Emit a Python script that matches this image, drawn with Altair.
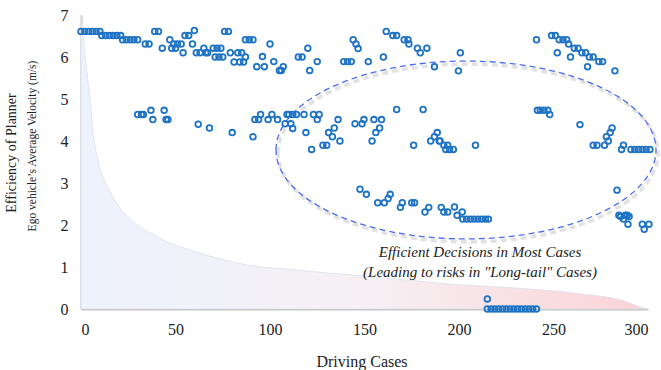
import altair as alt
import pandas as pd

# ---------------- data ----------------
case_x = [
    0, 2, 4, 6, 8, 10,
    11, 13, 15, 17, 19, 21,
    22, 24, 26, 28, 30,
    30, 32, 33,
    34, 36,
    37, 38,
    39, 41,
    43, 44, 45, 46, 47, 48, 49, 50, 51, 53, 54,
    55, 57, 59, 60, 61, 62, 63, 65, 66, 67, 68,
    70, 71, 72, 73, 74, 75,
    76, 78, 79, 80, 81, 83, 84, 85, 86, 87, 87, 89, 91,
    91, 92, 93, 94, 95, 96, 97, 99, 100, 101, 102, 104, 105, 106, 107, 108,
    109, 110, 111, 112, 112, 114, 115, 117, 118, 119, 120, 121, 122, 123,
    125, 125, 126, 128, 130, 131, 133, 134, 136, 137, 139, 141, 143, 144,
    145, 145.5, 146.6, 147.6, 148.7, 149.7, 151, 152, 154, 155, 156, 157,
    158, 159, 160, 160.5, 161.5, 162.5, 163.6, 165, 167, 167, 169, 170,
    171, 173, 173.5, 175, 176.5, 176, 178, 179.5, 181, 182, 183, 184, 185,
    187, 187, 188.5, 189.6, 190.6, 190, 192, 192, 193, 194, 194, 195, 197,
    197.6, 199, 199.7, 200.7, 201.7,
    202, 204, 206, 208, 208.7, 210, 212, 214, 215.6,
    215, 215, 217, 219, 221, 223, 225, 227, 229, 231, 233, 235, 237, 239, 241,
    241, 241.5, 243, 245, 247, 248,
    249, 251, 252, 253, 255, 257, 258, 259, 261, 263, 264, 265, 267, 268,
    269, 271, 271, 273, 274, 276, 277, 278, 279, 280, 281, 282.5, 283.6,
    284.6, 285.5, 286, 287, 287, 288, 289, 289.4, 290, 291, 293, 295, 297,
    297, 298, 299, 300.5, 301,
]
velocity = [
    6.61, 6.61, 6.61, 6.61, 6.61, 6.61,
    6.51, 6.51, 6.51, 6.51, 6.51, 6.51,
    6.41, 6.41, 6.41, 6.41, 6.41,
    4.63, 4.63, 4.63,
    6.31, 6.31,
    4.73, 4.51,
    6.61, 6.61,
    6.21, 4.73, 4.51, 4.51, 6.41, 6.21, 6.31, 6.21, 6.31, 6.31, 6.10,
    6.51, 6.51, 6.31, 6.63, 6.10, 4.40, 6.10, 6.21, 6.10, 6.10, 4.31,
    6.21, 6.00, 6.21, 6.00, 6.21, 6.00,
    6.61, 6.61, 6.10, 4.20, 5.88, 6.10, 5.88, 6.10, 5.88, 6.00, 6.41, 6.41, 6.41,
    4.10, 4.51, 5.77, 4.51, 4.63, 6.01, 5.77, 4.51, 6.31, 4.63, 5.89, 4.51, 5.68, 5.68, 5.77, 4.41,
    4.63, 4.63, 4.41, 4.63, 4.30, 4.63, 6.00, 6.00, 4.63, 4.20, 6.21, 5.68, 3.80, 4.63,
    5.89, 4.51, 4.63, 3.90, 3.90, 4.20, 4.10, 4.31, 4.51, 4.00, 5.89, 5.89, 5.89, 6.41,
    4.41, 6.31, 6.20, 2.85, 4.41, 4.51, 2.73, 5.89, 4.00, 4.51, 4.20, 2.53,
    4.31, 4.51, 6.00, 2.53, 6.61, 2.63, 2.73, 6.51, 6.51, 4.75, 2.42, 2.53,
    6.41, 6.41, 6.31, 2.53, 2.53, 3.90, 6.21, 6.10, 4.75, 2.31, 6.21, 2.42, 4.00,
    5.77, 4.10, 4.20, 4.00, 2.42, 4.00, 2.31, 3.90, 3.80, 3.90, 2.31, 3.80, 3.80,
    2.43, 2.23, 5.67, 6.10, 2.31,
    2.14, 2.14, 2.14, 2.14, 3.90, 2.14, 2.14, 2.14, 2.14,
    0.24, 0, 0, 0, 0, 0, 0, 0, 0, 0, 0, 0, 0, 0, 0,
    6.41, 4.73, 4.73, 4.73, 4.73, 4.63,
    6.51, 6.51, 6.10, 6.41, 6.41, 6.41, 6.31, 6.00, 6.21, 6.21, 4.39, 6.10, 6.10, 5.77,
    6.00, 6.00, 3.90, 3.90, 5.89, 5.89, 3.90, 4.10, 4.00, 4.20, 4.31, 5.67, 2.83,
    2.23, 2.20, 3.80, 3.90, 2.14, 2.23, 2.23, 2.02, 2.20, 3.80, 3.80, 3.80, 3.80,
    2.02, 1.90, 3.80, 2.02, 3.80,
]

# decorative "long-tail" curve
tail_x = [0, 1, 2, 3, 4, 5, 6.4, 8, 10, 12.5, 15.4, 18, 22, 27, 30, 38, 47, 56, 65, 75,
          83, 95, 110, 125, 143, 160, 180, 196, 215, 230, 244, 255, 265, 272, 279, 285,
          290, 294, 297, 300]
tail_y = [7.0, 6.6, 6.1, 5.7, 5.3, 4.9, 4.2, 3.75, 3.35, 3.05, 2.8, 2.58, 2.33, 2.11, 2.0,
          1.78, 1.57, 1.43, 1.3, 1.18, 1.09, 1.0, 0.95, 0.88, 0.81, 0.74, 0.66, 0.59, 0.54,
          0.5, 0.45, 0.41, 0.36, 0.32, 0.28, 0.22, 0.15, 0.08, 0.03, 0.0]

x_ticks = [0, 50, 100, 150, 200, 250, 300]
y_ticks = [0, 1, 2, 3, 4, 5, 6, 7]

pts = pd.DataFrame({"x": case_x, "y": velocity})
tail = pd.DataFrame({"x": tail_x, "y": tail_y})

SERIF = "Liberation Serif, Times New Roman, serif"
W, H = 567, 294

xs = alt.Scale(domain=[0, 300], nice=False, zero=False)
ys = alt.Scale(domain=[0, 7], nice=False)

grad = alt.LinearGradient(
    gradient="linear",
    stops=[alt.GradientStop(color="#EDF2FD", offset=0),
           alt.GradientStop(color="#F6F0F4", offset=0.5),
           alt.GradientStop(color="#FBD3D6", offset=1)],
    x1=0, x2=1, y1=1, y2=1)

area = alt.Chart(tail).mark_area(
    color=grad, interpolate="monotone", stroke="#DCDFE8", strokeWidth=0.8
).encode(
    x=alt.X("x:Q", scale=xs, axis=alt.Axis(values=x_ticks, title=None, labelPadding=12)),
    y=alt.Y("y:Q", scale=ys, axis=alt.Axis(values=y_ticks, title=None, labelPadding=13)),
)

points = alt.Chart(pts).mark_point(
    shape="circle", filled=False, size=32, strokeWidth=1.8,
    color="#1F73C4", opacity=1
).encode(
    x=alt.X("x:Q", scale=xs, axis=alt.Axis(values=x_ticks, title=None, labelPadding=12)),
    y=alt.Y("y:Q", scale=ys, axis=alt.Axis(values=y_ticks, title=None, labelPadding=13)),
)

# ellipse annotation (custom symbol path in [-1,1] box)
ELL = ("M -1 0 C -1 -0.2585 -0.5523 -0.468 0 -0.468 "
       "C 0.5523 -0.468 1 -0.2585 1 0 "
       "C 1 0.2585 0.5523 0.468 0 0.468 "
       "C -0.5523 0.468 -1 0.2585 -1 0 Z")
one = pd.DataFrame({"k": [0]})

shadow = alt.Chart(one).mark_point(
    shape=ELL, size=380 * 380, filled=False, color="#9A9A9A",
    strokeWidth=3.5, opacity=0.28, strokeDash=[6, 4]
).encode(x=alt.value(385 + 2), y=alt.value(135 + 3))

ellipse = alt.Chart(one).mark_point(
    shape=ELL, size=380 * 380, filled=False, color="#4A6CF0",
    strokeWidth=1.3, opacity=1, strokeDash=[6, 4]
).encode(x=alt.value(385), y=alt.value(135))


def label(txt, x, y, size, angle=0, style="normal", color="#222222"):
    return alt.Chart(pd.DataFrame({"t": [txt]})).mark_text(
        font=SERIF, fontSize=size, fontStyle=style, color=color,
        angle=angle, align="center", baseline="middle"
    ).encode(text="t:N", x=alt.value(x), y=alt.value(y))


texts = [
    label("Driving  Cases", 281, 346.7, 16),
    label("Efficiency of Planner", -69, 138, 14, angle=270),
    label("Ego vehicle\u2019s Average Velocity (m/s)", -48, 131, 11.5, angle=270),
    label("Efficient Decisions in Most Cases", 399, 237, 15, style="italic"),
    label("(Leading to risks in \"Long-tail\" Cases)", 399, 257, 15, style="italic"),
]

chart = alt.layer(area, shadow, ellipse, points, *texts).properties(
    width=W, height=H,
    autosize=alt.AutoSizeParams(type="none"),
    padding={"left": 81, "top": 15, "right": 13, "bottom": 61},
    background="white",
).configure_view(stroke=None).configure_axis(
    grid=False, ticks=False, domainColor="#BFBFBF", domainWidth=2,
    labelFont=SERIF, labelFontSize=16, labelColor="#222222",
)

chart.save("out.html", embed_options={"renderer": "svg", "actions": False})
